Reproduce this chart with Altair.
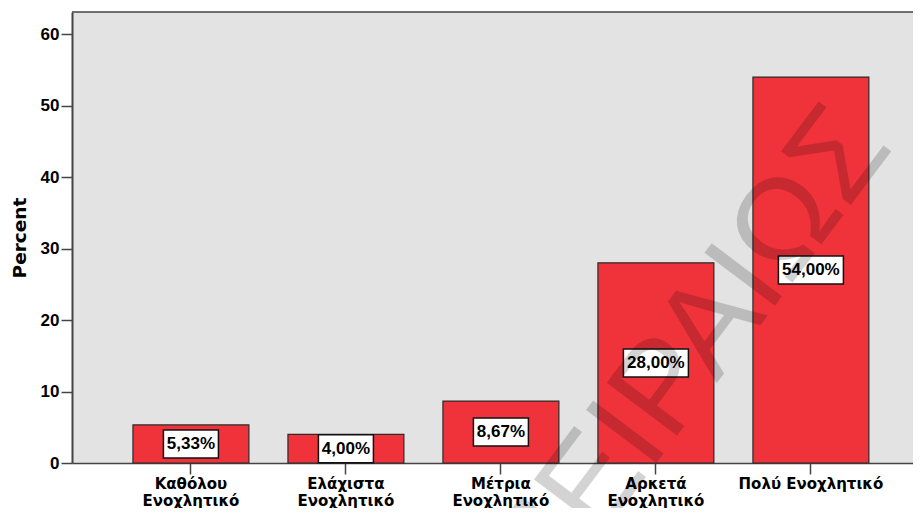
import altair as alt
import pandas as pd

categories = ["Καθόλου Ενοχλητικό", "Ελάχιστα Ενοχλητικό", "Μέτρια Ενοχλητικό",
              "Αρκετά Ενοχλητικό", "Πολύ Ενοχλητικό"]
percents = [5.33, 4.00, 8.67, 28.00, 54.00]
value_labels = ["5,33%", "4,00%", "8,67%", "28,00%", "54,00%"]
y_ticks = [0, 10, 20, 30, 40, 50, 60]
watermark = ["ΠΕΙΡΑΙΩΣ"]

df = pd.DataFrame({"cat": categories, "pct": percents, "lab": value_labels})

W, H = 841, 451
Y_MAX = 63.1
BOX_HALF = 14 * Y_MAX / H

xscale = alt.Scale(paddingInner=0.252, paddingOuter=0.339, align=0.58)
yscale = alt.Scale(domain=[0, Y_MAX], nice=False, zero=True)

x_axis = alt.Axis(
    title=None, labelAngle=0, labelFont="DejaVu Sans", labelFontWeight="bold",
    labelFontSize=15, labelColor="#000", labelLineHeight=17, labelPadding=2,
    tickSize=11, tickColor="#444", tickWidth=1.5, domainColor="#444", domainWidth=1.5,
    labelExpr="datum.value == 'Πολύ Ενοχλητικό' ? datum.value : split(datum.value, ' ')",
)
y_axis = alt.Axis(
    values=y_ticks, grid=False, title="Percent", titleFont="DejaVu Sans",
    titleFontSize=18.5, titleFontWeight="bold", titleColor="#000", titlePadding=11,
    labelFont="Liberation Sans", labelFontSize=17, labelFontWeight="bold",
    labelColor="#000", labelPadding=2, tickSize=11, tickColor="#444", tickWidth=1.5,
    domainColor="#444", domainWidth=2,
)

x_enc = alt.X("cat:N", sort=categories, scale=xscale, axis=x_axis)

base = alt.Chart(df)

bars = base.mark_bar(color="#F0323A", stroke="#2b2b2b", strokeWidth=1.2).encode(
    x=x_enc, y=alt.Y("pct:Q", scale=yscale, axis=y_axis)
)

boxes = base.transform_calculate(
    lo=f"datum.pct/2 - {BOX_HALF}",
    hi=f"datum.pct/2 + {BOX_HALF}",
    bw="length(datum.lab) * 10 + 5",
).mark_bar(fill="white", stroke="#111", strokeWidth=1.5).encode(
    x=x_enc,
    y=alt.Y("lo:Q", scale=yscale, axis=y_axis),
    y2="hi:Q",
    size=alt.Size("bw:Q", scale=None),
)

texts = base.transform_calculate(mid="datum.pct/2").mark_text(
    font="Liberation Sans", fontWeight="bold", fontSize=17, color="#000",
    baseline="middle", align="center",
).encode(
    x=x_enc,
    y=alt.Y("mid:Q", scale=yscale, axis=y_axis),
    text="lab:N",
)

wm_df = pd.DataFrame({"w": watermark})
topline = alt.Chart(wm_df).mark_rule(color="#444", strokeWidth=1.5).encode(
    x=alt.value(0), x2=alt.value(W), y=alt.value(0)
)

wmark = alt.Chart(wm_df).mark_text(
    font="Liberation Sans", fontSize=128, angle=307, color="#000", opacity=0.17,
    baseline="middle", align="center",
).encode(x=alt.value(616), y=alt.value(346), text="w:N")

chart = alt.layer(bars, boxes, texts, topline, wmark).properties(
    width=W, height=H,
    padding={"left": 64, "top": 4, "right": 0, "bottom": 45},
    autosize=alt.AutoSizeParams(type="none"),
    background="white",
).configure_view(fill="#E3E3E3", stroke=None)

chart.save("out.html", embed_options={"renderer": "svg", "actions": False})
